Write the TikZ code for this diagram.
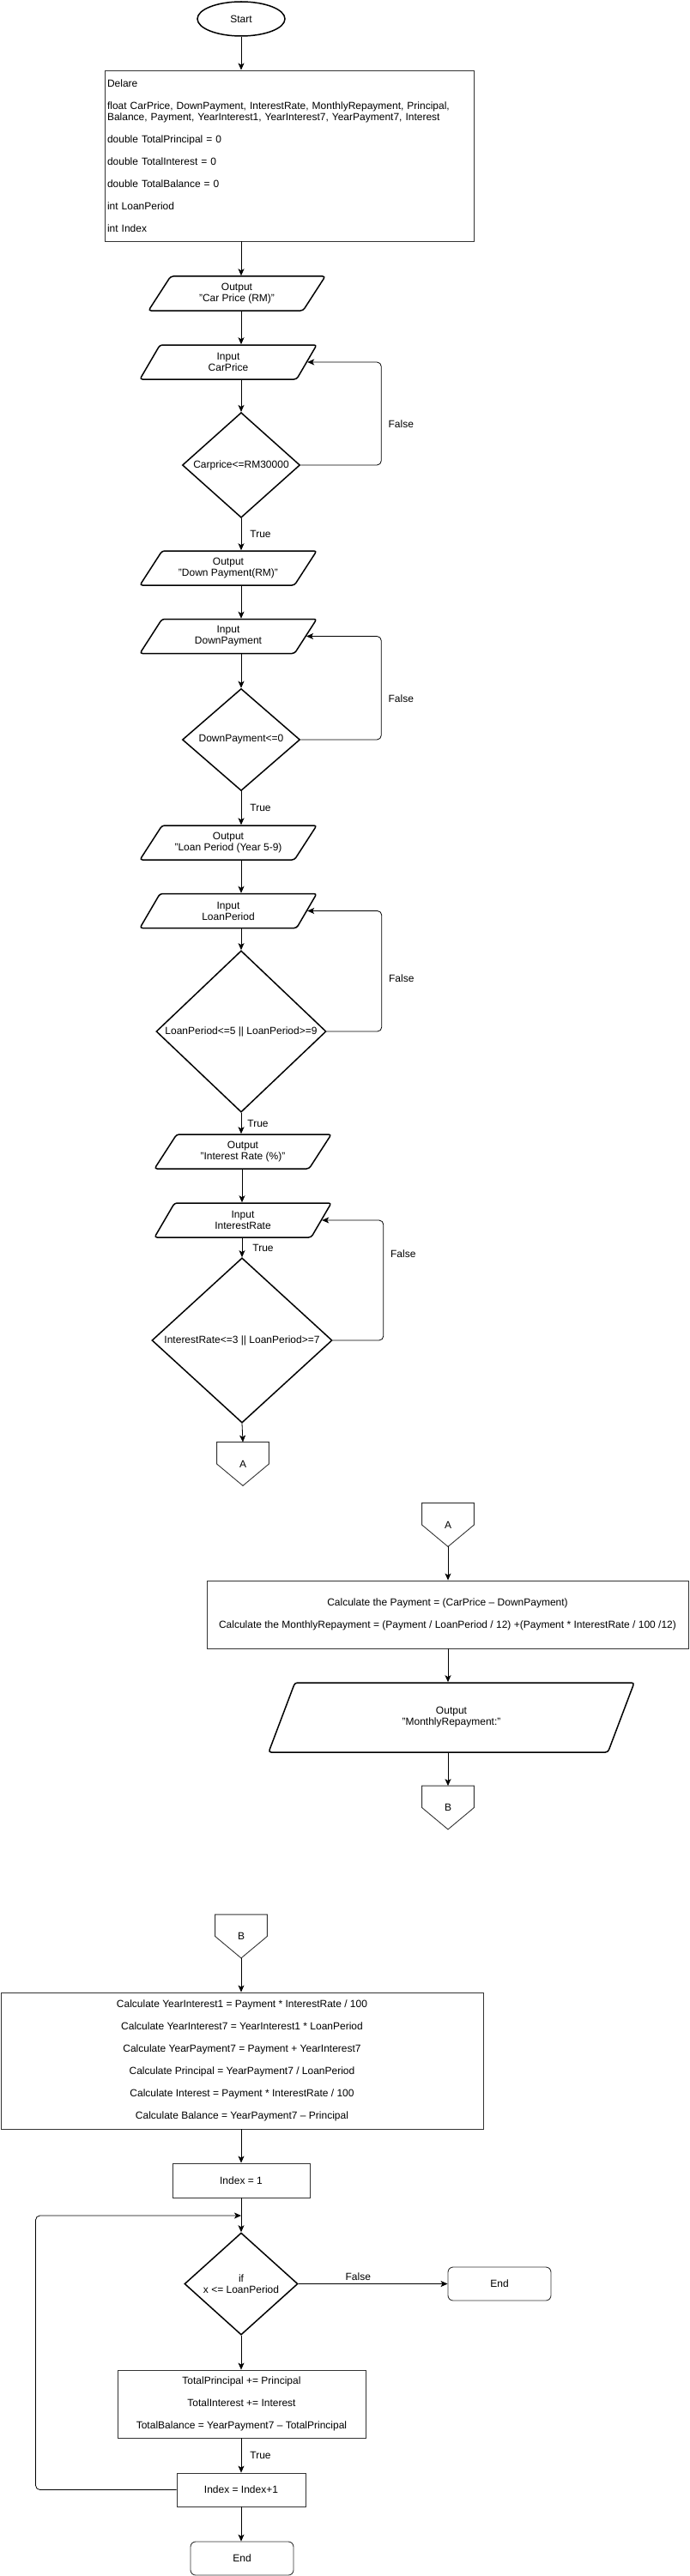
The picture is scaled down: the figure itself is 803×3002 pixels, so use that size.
\documentclass[tikz,border=0pt]{standalone}
\usepackage{fontspec}
\setmainfont{Liberation Sans}
\usetikzlibrary{arrows.meta,shapes.geometric}
\tikzset{
  terminal/.style={ellipse, draw, line width=1.5pt, minimum width=102pt, minimum height=40pt, inner sep=0pt},
  io/.style={trapezium, trapezium left angle=45, trapezium right angle=135, trapezium stretches body,
    draw, line width=1.5pt, rounded corners=3pt, minimum height=40pt, minimum width=206pt, inner sep=1pt, align=center},
  decision/.style={diamond, draw, line width=1.5pt, inner sep=0pt, align=center},
  process/.style={rectangle, draw=black!80, line width=0.9pt, align=center},
  stopbox/.style={rectangle, rounded corners=6pt, draw=black!80, line width=0.9pt, minimum width=120pt, minimum height=39pt},
  offpage/.style={rectangle, minimum width=60pt, minimum height=50pt, inner sep=0pt},
  offline/.style={draw=black!80, line width=0.9pt},
  lbl/.style={inner sep=2pt}
}
\newcommand{\pentagonoutline}[1]{\draw[offline] (#1.north west) -- (#1.north east) -- (#1.east) -- (#1.south) -- (#1.west) -- cycle;}
\begin{document}
\begin{tikzpicture}[x=1pt, y=-1pt, >={Stealth[length=8pt,width=7pt,inset=2pt]},
  font=\fontsize{12}{13}\selectfont, line width=0.8pt]
\useasboundingbox (0,0) rectangle (803,3002);

% reading the input
\node[terminal] (start) at (281,22) {Start};
\node[process, align=left, text width=424pt, inner sep=3pt, minimum height=199pt] (decl) at (337,181.5) {Delare\\[13pt]
  float CarPrice, DownPayment, InterestRate, MonthlyRepayment, Principal,\\
  Balance, Payment, YearInterest1, YearInterest7, YearPayment7, Interest\\[13pt]
  double TotalPrincipal = 0\\[13pt]
  double TotalInterest = 0\\[13pt]
  double TotalBalance = 0\\[13pt]
  int LoanPeriod\\[13pt]
  int Index};

\node[io] (outPrice) at (276,342) {Output\\"Car Price (RM)"};
\node[io] (inPrice) at (266,422) {Input\\CarPrice};
\node[decision, minimum width=137pt, minimum height=120pt] (chkPrice) at (281,542) {Carprice<=RM30000};

\node[io] (outDown) at (266,662) {Output\\"Down Payment(RM)"};
\node[io] (inDown) at (266,741.5) {Input\\DownPayment};
\node[decision, minimum width=137pt, minimum height=119pt] (chkDown) at (281,862) {DownPayment<=0};

\node[io] (outLoan) at (266,982) {Output\\"Loan Period (Year 5-9)};
\node[io] (inLoan) at (266,1061.5) {Input\\LoanPeriod};
\node[decision, minimum width=198pt, minimum height=160pt] (chkLoan) at (281,1202) {LoanPeriod<=5 || LoanPeriod>=9};

\node[io] (outRate) at (283,1342) {Output\\"Interest Rate (\%)"};
\node[io] (inRate) at (283,1422) {Input\\InterestRate};
\node[decision, minimum width=210pt, minimum height=160pt] (chkRate) at (282,1562) {InterestRate<=3 || LoanPeriod>=7};

\node[offpage] (toA) at (283,1706) {A};
\pentagonoutline{toA}

\draw[->] (start) -- (decl.north -| start);
\draw[->] (decl.south -| start) -- (outPrice.north -| start);
\draw[->] (outPrice.south -| start) -- (inPrice.north -| start);
\draw[->] (inPrice.south -| chkPrice) -- (chkPrice.north);
\draw[->, rounded corners=5pt] (chkPrice.east) -- ++(94,0) |- node[lbl, pos=0.2, right=6pt] {False} (inPrice.east);
\draw[->] (chkPrice.south) -- node[lbl, right=8pt] {True} (outDown.north -| chkPrice);

\draw[->] (outDown.south -| chkDown) -- (inDown.north -| chkDown);
\draw[->] (inDown.south -| chkDown) -- (chkDown.north);
\draw[->, rounded corners=5pt] (chkDown.east) -- ++(94,0) |- node[lbl, pos=0.2, right=6pt] {False} (inDown.east);
\draw[->] (chkDown.south) -- node[lbl, right=8pt] {True} (outLoan.north -| chkDown);

\draw[->] (outLoan.south -| chkLoan) -- (inLoan.north -| chkLoan);
\draw[->] (inLoan.south -| chkLoan) -- (chkLoan.north);
\draw[->, rounded corners=5pt] (chkLoan.east) -- ++(64,0) |- node[lbl, pos=0.22, right=6pt] {False} (inLoan.east);
\draw[->] (chkLoan.south) -- node[lbl, right=5pt] {True} (outRate.north -| chkLoan);

\draw[->] (outRate.south -| chkRate) -- (inRate.north -| chkRate);
\draw[->] (inRate.south -| chkRate) -- node[lbl, right=10pt] {True} (chkRate.north);
\draw[->, rounded corners=5pt] (chkRate.east) -- ++(59,0) |- node[lbl, pos=0.36, right=6pt] {False} (inRate.east);
\draw[->] (chkRate.south) -- (toA.north);

% monthly repayment
\node[offpage] (fromA) at (522,1777) {A};
\pentagonoutline{fromA}
\node[process, minimum width=561pt, minimum height=79pt] (calcPay) at (521.5,1881.5) {Calculate the Payment = (CarPrice – DownPayment)\\[13pt]
  Calculate the MonthlyRepayment = (Payment / LoanPeriod / 12) +(Payment * InterestRate / 100 /12)};
\node[io, minimum width=426pt, minimum height=81pt, trapezium left angle=40.2, trapezium right angle=139.8] (outMonthly) at (526,2001.5) {Output\\"MonthlyRepayment:"};
\node[offpage] (toB) at (522,2106.5) {B};
\pentagonoutline{toB}
\coordinate (tipA) at (fromA.south);

\draw[->] (tipA) -- (calcPay.north -| tipA);
\draw[->] (calcPay.south -| tipA) -- (outMonthly.north -| tipA);
\draw[->] (outMonthly.south -| tipA) -- (toB.north);

% yearly totals
\node[offpage] (fromB) at (281,2256.5) {B};
\pentagonoutline{fromB}
\node[process, minimum width=562pt, minimum height=159pt] (calcYear) at (282,2401.5) {Calculate YearInterest1 = Payment * InterestRate / 100\\[13pt]
  Calculate YearInterest7 = YearInterest1 * LoanPeriod\\[13pt]
  Calculate YearPayment7 = Payment + YearInterest7\\[13pt]
  Calculate Principal = YearPayment7 / LoanPeriod\\[13pt]
  Calculate Interest = Payment * InterestRate / 100\\[13pt]
  Calculate Balance = YearPayment7 – Principal};
\node[process, minimum width=160pt, minimum height=40pt] (idxInit) at (281,2541) {Index = 1};
\node[decision, minimum width=132pt, minimum height=119pt] (chkIdx) at (281,2661.5) {if\\x <= LoanPeriod};
\node[stopbox] (endFalse) at (582,2661.5) {End};
\node[process, minimum width=289pt, minimum height=79pt] (calcTotal) at (281.5,2801.5) {TotalPrincipal += Principal\\[13pt]
  TotalInterest += Interest\\[13pt]
  TotalBalance = YearPayment7 – TotalPrincipal};
\node[process, minimum width=150pt, minimum height=39pt] (idxNext) at (281,2901.5) {Index = Index+1};
\node[stopbox] (endLoop) at (282,2981.5) {End};
\coordinate (join) at (281,2582);

\draw[->] (fromB.south) -- (calcYear.north -| fromB);
\draw[->] (calcYear.south -| idxInit) -- (idxInit.north);
\draw[->] (idxInit.south) -- (chkIdx.north);
\draw[->] (chkIdx.east) -- node[lbl, above=2pt, pos=0.4] {False} (endFalse.west);
\draw[->] (chkIdx.south) -- (calcTotal.north -| chkIdx);
\draw[->] (calcTotal.south -| idxNext) -- node[lbl, right=8pt] {True} (idxNext.north);
\draw[->, rounded corners=5pt] (idxNext.west) -- ++(-164,0) |- (join);
\draw[->] (idxNext.south) -- (endLoop.north -| idxNext);
\end{tikzpicture}
\end{document}
